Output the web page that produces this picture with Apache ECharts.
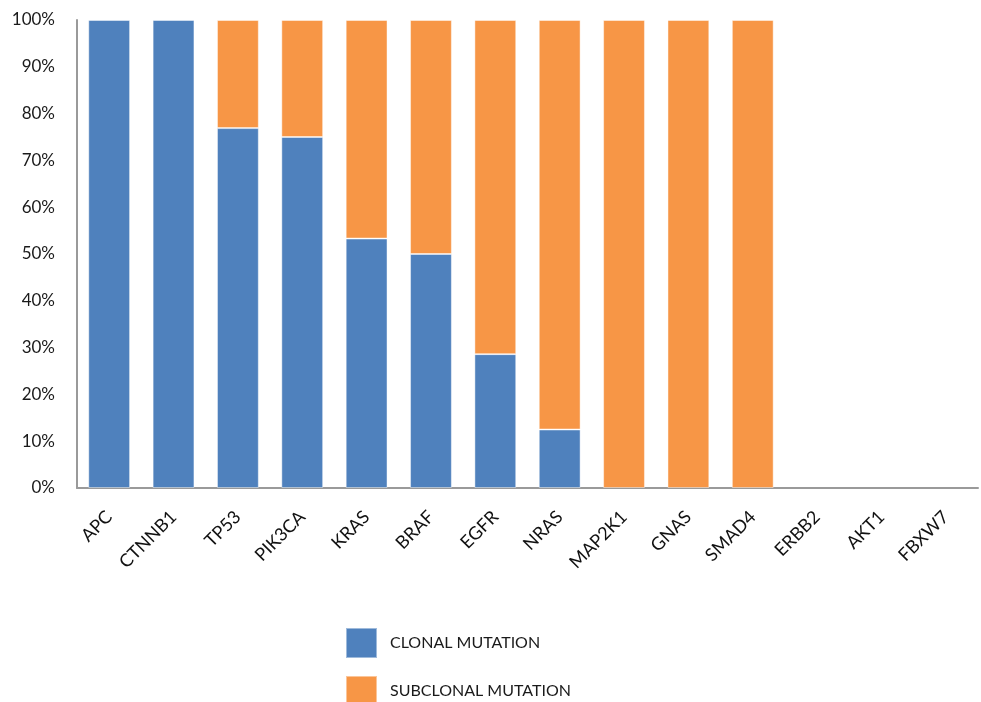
<!DOCTYPE html>
<html>
<head>
<meta charset="utf-8">
<script src="https://cdn.jsdelivr.net/npm/echarts@6/dist/echarts.min.js"></script>
<style>
  html, body { margin: 0; padding: 0; background: #fff; }
  #chart { width: 981px; height: 702px; }
</style>
</head>
<body>
<div id="chart"></div>
<script>
// Genes along the x axis
const genes = ['APC', 'CTNNB1', 'TP53', 'PIK3CA', 'KRAS', 'BRAF', 'EGFR', 'NRAS',
               'MAP2K1', 'GNAS', 'SMAD4', 'ERBB2', 'AKT1', 'FBXW7'];
// Share of mutations (%) per gene; null where there is nothing to draw
const clonal    = [100, 100, 76.9, 75, 53.3, 50, 28.6, 12.5, null, null, null, null, null, null];
const subclonal = [null, null, 23.1, 25, 46.7, 50, 71.4, 87.5, 100, 100, 100, null, null, null];
const seriesNames = ['CLONAL MUTATION', 'SUBCLONAL MUTATION'];

const font = 'Lato, Open Sans, sans-serif';
const chart = echarts.init(document.getElementById('chart'));

const barStyle = (color) => ({
  color: color,
  borderColor: 'rgba(255,255,255,0.45)',
  borderWidth: 1
});

const legendItem = (name, top) => ({
  orient: 'vertical',
  left: 345,
  top: top,
  padding: 0,
  itemWidth: 31,
  itemHeight: 30,
  itemGap: 0,
  icon: 'rect',
  textStyle: { fontFamily: font, fontSize: 16, color: '#1a1a1a', padding: [0, 0, 0, 8] },
  data: [name]
});

chart.setOption({
  animation: false,
  grid: { left: 77, right: 3, top: 20, bottom: 214, containLabel: false },
  legend: [legendItem(seriesNames[0], 627), legendItem(seriesNames[1], 675)],
  xAxis: {
    type: 'category',
    data: genes,
    axisLine: { lineStyle: { color: '#9a9a9a', width: 2 } },
    axisTick: { show: false },
    axisLabel: {
      rotate: 45,
      margin: 26,
      interval: 0,
      fontFamily: font,
      fontSize: 18,
      color: '#111'
    }
  },
  yAxis: {
    type: 'value',
    min: 0,
    max: 100,
    interval: 10,
    axisLine: { show: true, lineStyle: { color: '#9a9a9a', width: 2 } },
    axisTick: { show: false },
    splitLine: { show: false },
    axisLabel: {
      formatter: '{value}%',
      margin: 22,
      fontFamily: font,
      fontSize: 17,
      color: '#1a1a1a'
    }
  },
  series: [
    {
      name: seriesNames[0],
      type: 'bar',
      stack: 'total',
      barWidth: '65%',
      itemStyle: barStyle('#4F81BD'),
      data: clonal
    },
    {
      name: seriesNames[1],
      type: 'bar',
      stack: 'total',
      barWidth: '65%',
      itemStyle: barStyle('#F79646'),
      data: subclonal
    }
  ]
});
</script>
</body>
</html>
